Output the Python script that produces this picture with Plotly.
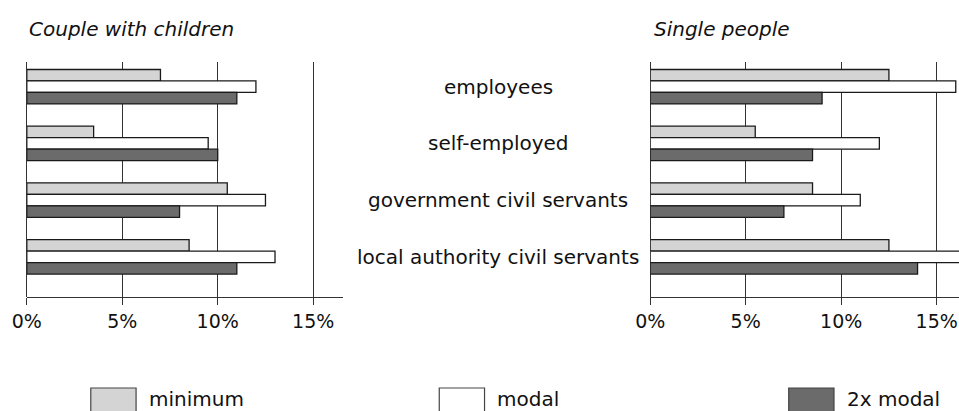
import plotly.graph_objects as go

categories = ["employees", "self-employed", "government civil servants", "local authority civil servants"]
series_names = ["minimum", "modal", "2x modal"]
series_colors = ["#d4d4d4", "#ffffff", "#6b6b6b"]

couple_min = [7.0, 3.5, 10.5, 8.5]
couple_modal = [12.0, 9.5, 12.5, 13.0]
couple_2x = [11.0, 10.0, 8.0, 11.0]

single_min = [12.5, 5.5, 8.5, 12.5]
single_modal = [16.0, 12.0, 11.0, 16.5]
single_2x = [9.0, 8.5, 7.0, 14.0]

tick_vals = [0, 5, 10, 15]
tick_text = ["0%", "5%", "10%", "15%"]
panel_titles = ["Couple with children", "Single people"]

W, H = 959, 411
FONT = "DejaVu Sans"
LINE = "#333333"

def px(x):
    return x / W

def py(y):
    return 1 - y / H

fig = go.Figure()

panels = [
    ("x", "y", [couple_min, couple_modal, couple_2x]),
    ("x2", "y2", [single_min, single_modal, single_2x]),
]
for xa, ya, vals in panels:
    for name, color, v in zip(series_names, series_colors, vals):
        fig.add_trace(go.Bar(
            x=v, y=categories, orientation="h", name=name,
            marker=dict(color=color, line=dict(color="#1a1a1a", width=1.3)),
            xaxis=xa, yaxis=ya, showlegend=False,
        ))

axis_common = dict(
    tickmode="array", tickvals=tick_vals, ticktext=tick_text,
    showgrid=True, gridcolor=LINE, gridwidth=1.3,
    zeroline=True, zerolinecolor=LINE, zerolinewidth=1.3,
    showline=True, linecolor=LINE, linewidth=1.3,
    ticks="outside", ticklen=7, tickcolor=LINE, tickwidth=1.3,
    tickfont=dict(family=FONT, size=19, color="#111111"),
    fixedrange=True,
)
yrange = [3.709, -0.436]
yaxis_common = dict(
    type="category", range=yrange, showticklabels=False, showgrid=False,
    zeroline=False, showline=False, ticks="", fixedrange=True,
)

ydom = [py(297), py(62)]
fig.update_layout(
    width=W, height=H,
    margin=dict(l=0, r=0, t=0, b=0),
    paper_bgcolor="white", plot_bgcolor="white",
    barmode="group", bargap=0.392, bargroupgap=0,
    showlegend=False,
    xaxis=dict(domain=[px(12), px(333)], range=[0, 16.55], anchor="y", **axis_common),
    yaxis=dict(domain=ydom, anchor="x", **yaxis_common),
    xaxis2=dict(domain=[px(645.3), 1.0], range=[0, 16.17], anchor="y2", **axis_common),
    yaxis2=dict(domain=ydom, anchor="x2", **yaxis_common),
)

# category labels between panels
for c in categories:
    fig.add_annotation(
        x=px(491), y=c, xref="paper", yref="y", text=c, showarrow=False,
        xanchor="center", yanchor="middle",
        font=dict(family=FONT, size=20, color="#111111"),
    )

# panel titles
for t, x0 in zip(panel_titles, [12, 647]):
    fig.add_annotation(
        x=px(x0), y=py(29), xref="paper", yref="paper", text="<i>" + t + "</i>",
        showarrow=False, xanchor="left", yanchor="middle",
        font=dict(family=FONT, size=20, color="#111111"),
    )

# legend (swatches and labels)
legend_x = [77, 431, 786]
for name, color, lx in zip(series_names, series_colors, legend_x):
    fig.add_shape(
        type="rect", xref="paper", yref="paper",
        x0=px(lx), x1=px(lx + 46), y0=py(388), y1=py(420),
        fillcolor=color, line=dict(color="#444444", width=1.2),
    )
    fig.add_annotation(
        x=px(lx + 57), y=py(399), xref="paper", yref="paper", text=name,
        showarrow=False, xanchor="left", yanchor="middle",
        font=dict(family=FONT, size=20, color="#111111"),
    )

fig.write_html(
    "out.html",
    config={"displayModeBar": False},
    post_script="document.body.style.margin='0';document.body.style.overflow='hidden';",
)
